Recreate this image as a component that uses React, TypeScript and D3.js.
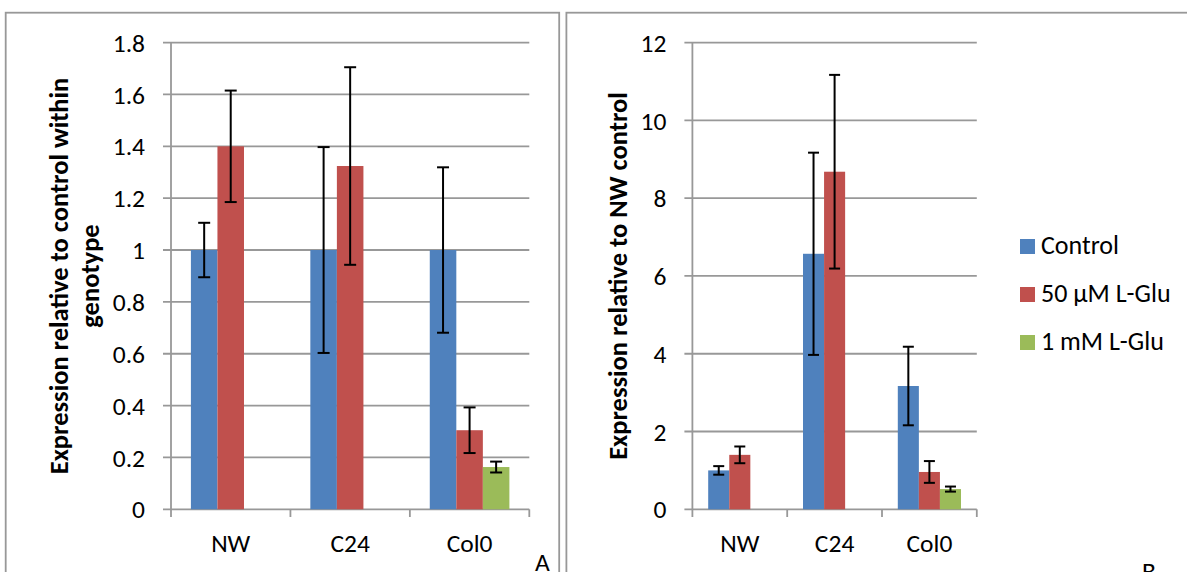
import React from "react";
import * as d3 from "d3";

const categories = ["NW", "C24", "Col0"];
const seriesNames = ["Control", "50 µM L-Glu", "1 mM L-Glu"];
const seriesColors = ["#4F81BD", "#C0504D", "#9BBB59"];

// Panel A: relative to control within genotype
const aControl = [1.0, 1.0, 1.0];
const aControlErr = [0.105, 0.397, 0.319];
const a50uM = [1.40, 1.324, 0.305];
const a50uMErr = [0.215, 0.381, 0.088];
const a1mM = [null, null, 0.163];
const a1mMErr = [null, null, 0.021];
const aTicks = [0, 0.2, 0.4, 0.6, 0.8, 1.0, 1.2, 1.4, 1.6, 1.8];
const aTickLabels = ["0", "0.2", "0.4", "0.6", "0.8", "1", "1.2", "1.4", "1.6", "1.8"];

// Panel B: relative to NW control
const bControl = [1.0, 6.57, 3.17];
const bControlErr = [0.11, 2.6, 1.01];
const b50uM = [1.40, 8.68, 0.96];
const b50uMErr = [0.215, 2.49, 0.28];
const b1mM = [null, null, 0.52];
const b1mMErr = [null, null, 0.065];
const bTicks = [0, 2, 4, 6, 8, 10, 12];
const bTickLabels = ["0", "2", "4", "6", "8", "10", "12"];

const FONT = "Carlito, Calibri, Lato, sans-serif";
const GRID = "#989898";
const FS = 25.5;

type PanelProps = {
  x0: number;
  x1: number;
  yMax: number;
  ticks: number[];
  tickLabels: string[];
  values: (number | null)[][];
  errors: (number | null)[][];
  titleLines: string[];
  titleX: number[];
  capW: number;
};

function Panel({ x0, x1, yMax, ticks, tickLabels, values, errors, titleLines, titleX, capW }: PanelProps) {
  const y = d3.scaleLinear().domain([0, yMax]).range([509.3, 42.6]);
  const xCat = d3.scaleBand<string>().domain(categories).range([x0, x1]).padding(0);
  const xSer = d3
    .scaleBand<string>()
    .domain(seriesNames)
    .range([0, xCat.bandwidth()])
    .paddingInner(0)
    .paddingOuter(0.75);
  const bw = xSer.bandwidth();
  const titleCy = 276;
  return (
    <g>
      {ticks.map((t, i) => (
        <g key={"t" + i}>
          <line x1={x0 - 8} x2={x1} y1={y(t)} y2={y(t)} stroke={GRID} strokeWidth={1.8} />
          <text
            x={x0 - 26}
            y={y(t)}
            dy="0.36em"
            textAnchor="end"
            fontFamily={FONT}
            fontSize={FS}
            fill="#000"
          >
            {tickLabels[i]}
          </text>
        </g>
      ))}
      <line x1={x0} x2={x0} y1={y(yMax)} y2={517} stroke={GRID} strokeWidth={1.8} />
      {categories.map((c, i) => (
        <line key={"ct" + i} x1={xCat(c)! + xCat.bandwidth()} x2={xCat(c)! + xCat.bandwidth()} y1={y(0)} y2={517} stroke={GRID} strokeWidth={1.8} />
      ))}
      {categories.map((c, i) =>
        seriesNames.map((s, j) => {
          const v = values[j][i];
          if (v == null) return null;
          const bx = xCat(c)! + xSer(s)!;
          return (
            <rect key={"b" + i + j} x={bx} y={y(v)} width={bw} height={y(0) - y(v)} fill={seriesColors[j]} />
          );
        })
      )}
      {categories.map((c, i) =>
        seriesNames.map((s, j) => {
          const v = values[j][i];
          const e = errors[j][i];
          if (v == null || e == null) return null;
          const cx = xCat(c)! + xSer(s)! + bw / 2;
          return (
            <g key={"e" + i + j} stroke="#000" strokeWidth={2}>
              <line x1={cx} x2={cx} y1={y(v + e)} y2={y(v - e)} />
              <line x1={cx - capW / 2} x2={cx + capW / 2} y1={y(v + e)} y2={y(v + e)} />
              <line x1={cx - capW / 2} x2={cx + capW / 2} y1={y(v - e)} y2={y(v - e)} />
            </g>
          );
        })
      )}
      {categories.map((c, i) => (
        <text
          key={"cl" + i}
          x={xCat(c)! + xCat.bandwidth() / 2}
          y={552}
          textAnchor="middle"
          fontFamily={FONT}
          fontSize={FS}
          fill="#000"
        >
          {c}
        </text>
      ))}
      {titleLines.map((t, i) => (
        <text
          key={"tl" + i}
          transform={`translate(${titleX[i]},${titleCy}) rotate(-90)`}
          textAnchor="middle"
          fontFamily={FONT}
          fontWeight="bold"
          fontSize={26.5}
          fill="#000"
        >
          {t}
        </text>
      ))}
    </g>
  );
}

export default function App() {
  return (
    <svg
      width={1187}
      height={572}
      style={{ position: "absolute", left: 0, top: 0, background: "#fff" }}
    >
      <rect x={0} y={0} width={1187} height={572} fill="#fff" />
      <rect x={5.7} y={12.7} width={553.5} height={600} fill="none" stroke={GRID} strokeWidth={1.8} />
      <rect x={566.4} y={12.7} width={700} height={600} fill="none" stroke={GRID} strokeWidth={1.8} />
      <Panel
        x0={171}
        x1={529.3}
        yMax={1.8}
        ticks={aTicks}
        tickLabels={aTickLabels}
        values={[aControl, a50uM, a1mM]}
        errors={[aControlErr, a50uMErr, a1mMErr]}
        titleLines={["Expression relative to control within", "genotype"]}
        titleX={[68, 99]}
        capW={12}
      />
      <Panel
        x0={692.4}
        x1={976.8}
        yMax={12}
        ticks={bTicks}
        tickLabels={bTickLabels}
        values={[bControl, b50uM, b1mM]}
        errors={[bControlErr, b50uMErr, b1mMErr]}
        titleLines={["Expression relative to NW control"]}
        titleX={[627]}
        capW={11}
      />
      {seriesNames.map((s, i) => (
        <g key={"lg" + i}>
          <rect x={1020} y={239 + i * 48} width={15} height={15} fill={seriesColors[i]} />
          <text x={1041} y={254 + i * 48} fontFamily={FONT} fontSize={26} fill="#000">
            {s}
          </text>
        </g>
      ))}
      <text x={535} y={571} fontFamily={FONT} fontSize={FS} fill="#000">A</text>
      <text x={1142} y={580} fontFamily={FONT} fontSize={FS} fill="#000">B</text>
    </svg>
  );
}
